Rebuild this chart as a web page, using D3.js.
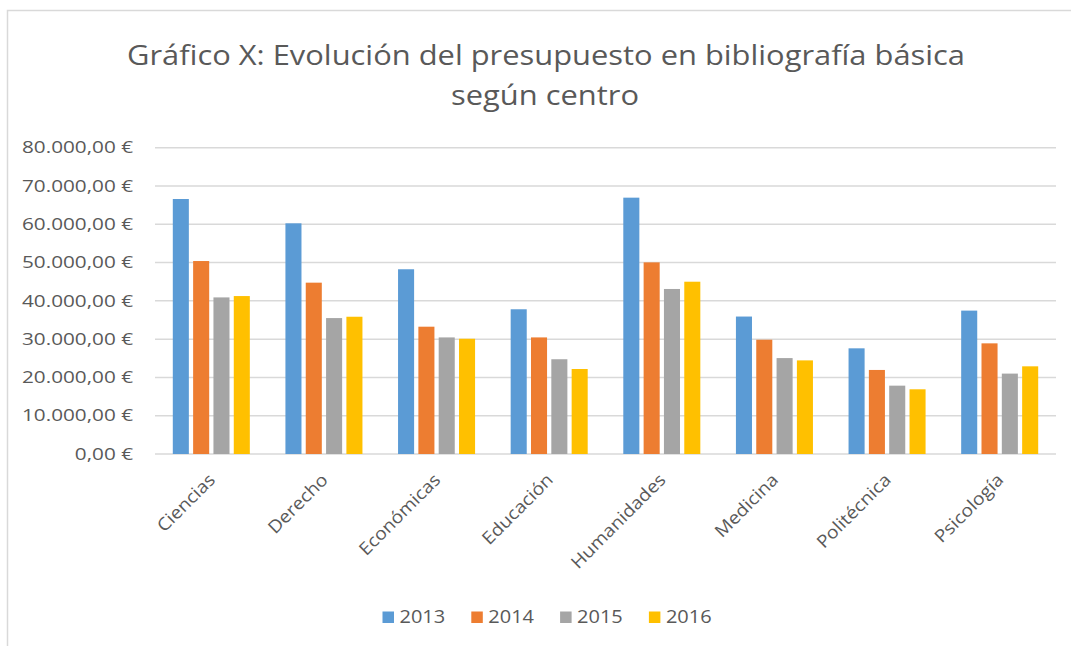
<!DOCTYPE html>
<html>
<head>
<meta charset="utf-8">
<script src="https://cdn.jsdelivr.net/npm/d3@7"></script>
<style>
  html, body { margin: 0; padding: 0; background: #fff; }
  text { font-family: "Open Sans", sans-serif; fill: #595959; }
</style>
</head>
<body>
<div id="chart"></div>
<script>
const width = 1071;
const height = 646;

// data
const centros = ['Ciencias', 'Derecho', 'Económicas', 'Educación', 'Humanidades', 'Medicina', 'Politécnica', 'Psicología'];
const years = ['2013', '2014', '2015', '2016'];
const v2013 = [66600, 60250, 48250, 37800, 66950, 35900, 27600, 37450];
const v2014 = [50400, 44750, 33250, 30450, 50050, 29850, 21950, 28900];
const v2015 = [40900, 35500, 30450, 24750, 43100, 25050, 17850, 21000];
const v2016 = [41250, 35850, 30100, 22200, 45000, 24450, 16900, 22900];
const yTicks = [0, 10000, 20000, 30000, 40000, 50000, 60000, 70000, 80000];
const colors = ['#5b9bd5', '#ed7d31', '#a5a5a5', '#ffc000'];

const series = [v2013, v2014, v2015, v2016];
const rows = centros.map((c, i) => ({ centro: c, values: series.map(s => s[i]) }));

const svg = d3.select('#chart')
    .append('svg')
    .attr('width', width)
    .attr('height', height);

// text in the picture is wider than Open Sans, stretch it
function stretch(sel, k) {
    sel.each(function () {
        const w = this.getComputedTextLength();
        d3.select(this).attr('textLength', w * k).attr('lengthAdjust', 'spacingAndGlyphs');
    });
}

// chart frame
svg.append('rect')
    .attr('x', 7.5)
    .attr('y', 10.5)
    .attr('width', width + 20)
    .attr('height', height + 20)
    .attr('fill', 'none')
    .attr('stroke', '#d9d9d9')
    .attr('stroke-width', 1.5);

// title
const title = svg.append('g').attr('font-size', 27.5);
const t1 = title.append('text').attr('text-anchor', 'middle').attr('x', 546).attr('y', 65)
    .text('Gráfico X: Evolución del presupuesto en bibliografía básica');
const t2 = title.append('text').attr('text-anchor', 'middle').attr('x', 545).attr('y', 105)
    .text('según centro');
const kTitle = 838 / t1.node().getComputedTextLength();
t1.call(stretch, kTitle);
t2.call(stretch, kTitle);

const plotLeft = 155, plotRight = 1056, plotTop = 147.7, plotBottom = 454;

const x0 = d3.scaleBand()
    .domain(centros)
    .range([plotLeft, plotRight])
    .padding(0);

const gOut = 17.8;
const x1 = d3.scaleBand()
    .domain(years)
    .range([gOut, x0.bandwidth() - gOut])
    .paddingInner(0.21)
    .paddingOuter(0);

const y = d3.scaleLinear()
    .domain([0, 80000])
    .range([plotBottom, plotTop]);

// gridlines
svg.append('g')
    .selectAll('line')
    .data(yTicks)
    .enter()
    .append('line')
    .attr('x1', plotLeft)
    .attr('x2', plotRight)
    .attr('y1', d => y(d))
    .attr('y2', d => y(d))
    .attr('stroke', '#d9d9d9')
    .attr('stroke-width', 1.5);

// y axis labels
const fmt = d3.formatLocale({ decimal: ',', thousands: '.', grouping: [3], currency: ['', ' €'] }).format('$,.2f');
const yAxis = svg.append('g')
    .attr('transform', `translate(${plotLeft},0)`)
    .call(d3.axisLeft(y).tickValues(yTicks).tickSize(0).tickPadding(22).tickFormat(fmt));
yAxis.select('.domain').remove();
const yLabels = yAxis.selectAll('text')
    .attr('font-size', 16.5)
    .attr('fill', '#595959')
    .style('font-family', '"Open Sans", sans-serif');
const widest = d3.max(yLabels.nodes(), n => n.getComputedTextLength());
yLabels.call(stretch, 111 / widest);

// bars
const groups = svg.append('g')
    .selectAll('g')
    .data(rows)
    .enter()
    .append('g')
    .attr('transform', d => `translate(${x0(d.centro)},0)`);

groups.selectAll('rect')
    .data(d => d.values.map((v, i) => ({ year: years[i], value: v, color: colors[i] })))
    .enter()
    .append('rect')
    .attr('x', d => x1(d.year))
    .attr('y', d => y(d.value))
    .attr('width', x1.bandwidth())
    .attr('height', d => y(0) - y(d.value))
    .attr('fill', d => d.color);

// x labels
svg.append('g')
    .selectAll('text')
    .data(centros)
    .enter()
    .append('text')
    .attr('transform', d => `translate(${x0(d) + x0.bandwidth() / 2 + 5},481) rotate(-45)`)
    .attr('text-anchor', 'end')
    .attr('font-size', 17.5)
    .text(d => d)
    .call(stretch, 1.1);

// legend
const legend = svg.append('g')
    .selectAll('g')
    .data(years)
    .enter()
    .append('g')
    .attr('transform', (d, i) => `translate(${382.5 + i * 88.8},611.5)`);

legend.append('rect')
    .attr('width', 11.5)
    .attr('height', 11.5)
    .attr('fill', (d, i) => colors[i]);

legend.append('text')
    .attr('x', 17)
    .attr('y', 11.8)
    .attr('font-size', 18.5)
    .text(d => d)
    .call(stretch, 1.08);
</script>
</body>
</html>
